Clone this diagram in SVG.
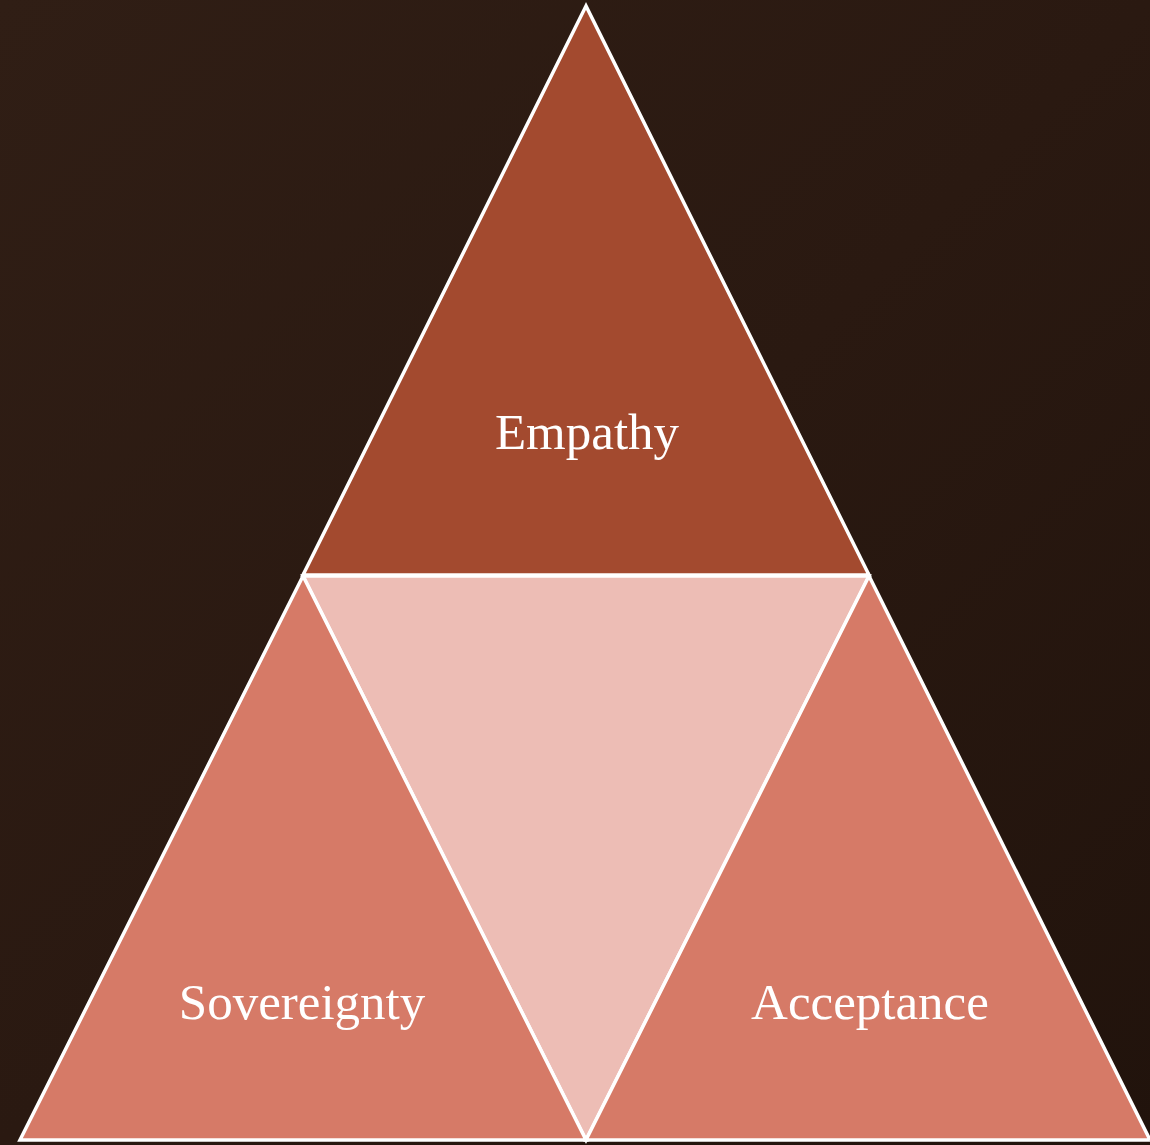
<svg xmlns="http://www.w3.org/2000/svg" width="1150" height="1145" viewBox="0 0 1150 1145">
<style>
.seg{stroke:#ffffff;stroke-width:3.5;stroke-linejoin:miter}
.dark{fill:#A34A2F}
.mid{fill:#D67A67}
.light{fill:#EDBDB5}
.lbl{font-family:"Liberation Serif","DejaVu Serif",serif;font-size:51px;fill:#ffffff;text-anchor:middle}
</style>
<defs>
<linearGradient id="wood" x1="0" y1="0" x2="1" y2="1">
<stop offset="0" stop-color="#301e15"/>
<stop offset="0.5" stop-color="#2a1911"/>
<stop offset="1" stop-color="#21130c"/>
</linearGradient>
</defs>
<rect width="1150" height="1145" fill="url(#wood)"/>
<g id="connectors"></g>
<g id="empathy">
<polygon class="seg dark" points="586,6 303,575 869,575"/>
<text class="lbl" x="587" y="449">Empathy</text>
</g>
<g id="center">
<polygon class="seg light" points="303,576 869,576 586,1140"/>
</g>
<g id="sovereignty">
<polygon class="seg mid" points="303,576 20,1140 586,1140"/>
<text class="lbl" x="302" y="1019">Sovereignty</text>
</g>
<g id="acceptance">
<polygon class="seg mid" points="869,576 586,1140 1150,1140"/>
<text class="lbl" x="870" y="1019">Acceptance</text>
</g>
</svg>
